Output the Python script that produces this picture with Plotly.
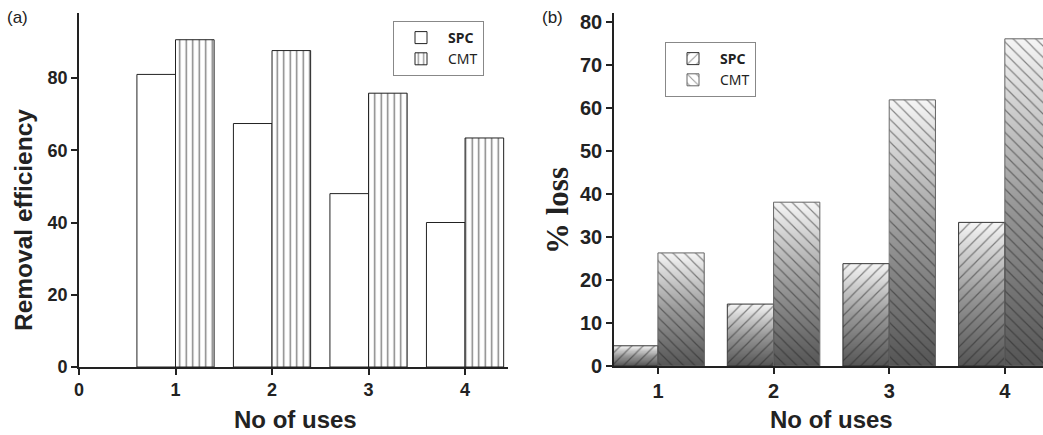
import numpy as np
import plotly.graph_objects as go

# ---- data ----
uses = [1, 2, 3, 4]
spc_removal = [81.0, 67.4, 48.0, 40.0]
cmt_removal = [90.6, 87.6, 75.8, 63.4]
spc_loss = [4.7, 14.4, 23.8, 33.4]
cmt_loss = [26.3, 38.1, 61.9, 76.1]
x_ticks_a = [0, 1, 2, 3, 4]
y_ticks_a = [0, 20, 40, 60, 80]
y_ticks_b = [0, 10, 20, 30, 40, 50, 60, 70, 80]

BAR_W = 0.4
INK = "#222222"


def bold(vals):
    return ["<b>%s</b>" % v for v in vals]


fig = go.Figure()

# ---- panel (a) ----
fig.add_trace(go.Bar(
    x=uses, y=spc_removal, name="<b>SPC</b>", xaxis="x", yaxis="y",
    marker=dict(color="white", line=dict(color="#222222", width=1)),
    legend="legend",
))
fig.add_trace(go.Bar(
    x=uses, y=cmt_removal, name="CMT", xaxis="x", yaxis="y",
    marker=dict(color="white", line=dict(color="#222222", width=1),
                pattern=dict(shape="|", fgcolor="#000000", bgcolor="white",
                             size=6.5, solidity=0.22)),
    legend="legend",
))

# ---- panel (b): per-bar vertical gradient drawn as a heatmap under the bars ----
col_vals = []
xe = [uses[0] - BAR_W]
for i, u in enumerate(uses):
    col_vals += [spc_loss[i], cmt_loss[i]]
    xe += [u, u + BAR_W]
    if i < len(uses) - 1:
        col_vals.append(None)
        xe.append(uses[i + 1] - BAR_W)
ye = np.linspace(0, 80, 641)
yc = (ye[:-1] + ye[1:]) / 2
z = [[(None if (v is None or yv > v) else yv / v) for v in col_vals] for yv in yc]

fig.add_trace(go.Heatmap(
    x=xe, y=ye, z=z, xaxis="x2", yaxis="y2", showscale=False,
    zmin=0, zmax=1, hoverinfo="skip",
    colorscale=[[0, "#555555"], [0.5, "#999999"], [1, "#f6f6f6"]],
))
fig.add_trace(go.Bar(
    x=uses, y=spc_loss, name="<b>SPC</b>", xaxis="x2", yaxis="y2",
    marker=dict(color="rgba(0,0,0,0)", line=dict(color="#333333", width=1),
                pattern=dict(shape="/", fgcolor="#222222", bgcolor="rgba(0,0,0,0)",
                             size=8, solidity=0.15)),
    legend="legend2",
))
fig.add_trace(go.Bar(
    x=uses, y=cmt_loss, name="CMT", xaxis="x2", yaxis="y2",
    marker=dict(color="rgba(0,0,0,0)", line=dict(color="#666666", width=1),
                pattern=dict(shape="\\", fgcolor="#222222", bgcolor="rgba(0,0,0,0)",
                             size=8, solidity=0.15)),
    legend="legend2",
))

axis_common = dict(showline=True, linecolor=INK, linewidth=1.6, ticks="outside",
                   ticklen=6, tickwidth=1.6, tickcolor=INK, showgrid=False,
                   zeroline=False, automargin=False)
tf_a = dict(family="Liberation Sans, Arial", size=18, color=INK)
tf_b = dict(family="Liberation Sans, Arial", size=20, color=INK)

W, H = 1043, 435
legend_common = dict(xanchor="left", yanchor="top", bordercolor="#888888",
                     borderwidth=1, bgcolor="white",
                     font=dict(family="Noto Sans", size=14, color=INK),
                     tracegroupgap=0, itemwidth=44)


def ann(text, x, y, size, family="Liberation Sans", bold_=True, angle=0):
    return dict(text=text, x=x / W, y=1 - y / H, xref="paper", yref="paper",
                xanchor="center", yanchor="middle", showarrow=False,
                textangle=angle,
                font=dict(family=family, size=size, color=INK,
                          weight="bold" if bold_ else "normal"))


fig.update_layout(
    width=W, height=H, autosize=False,
    margin=dict(l=0, r=0, t=0, b=0, pad=0, autoexpand=False),
    paper_bgcolor="white", plot_bgcolor="white",
    barmode="group", bargap=0.2, bargroupgap=0,
    showlegend=True,
    xaxis=dict(domain=[79 / W, 508 / W], range=[0, 4.445], tickvals=x_ticks_a,
               ticktext=bold(x_ticks_a), anchor="y", tickfont=tf_a, **axis_common),
    yaxis=dict(domain=[68 / H, 422 / H], range=[0, 98], tickvals=y_ticks_a,
               ticktext=bold(y_ticks_a), anchor="x", tickfont=tf_a, **axis_common),
    xaxis2=dict(domain=[614 / W, 1.0], range=[0.62, 4.33], tickvals=uses,
                ticktext=bold(uses), anchor="y2", tickfont=tf_b, **axis_common),
    yaxis2=dict(domain=[69 / H, 422 / H], range=[0, 82.1], tickvals=y_ticks_b,
                ticktext=bold(y_ticks_b), anchor="x2", tickfont=tf_b, **axis_common),
    legend=dict(x=393 / W, y=1 - 21 / H, **legend_common),
    legend2=dict(x=665 / W, y=1 - 42 / H, **legend_common),
    annotations=[
        ann("(a)", 17, 18, 17, bold_=False),
        ann("(b)", 552, 18, 17, bold_=False),
        ann("Removal efficiency", 23, 220, 24.5, angle=-90),
        ann("No of uses", 295, 419, 24),
        ann("No of uses", 831, 419, 24),
        ann("% loss", 557, 211, 31, family="Liberation Serif", angle=-90),
    ],
)

fig.write_html("out.html",
               config={"displayModeBar": False},
               post_script="document.body.style.margin='0';"
                           "document.body.style.overflow='hidden';")
